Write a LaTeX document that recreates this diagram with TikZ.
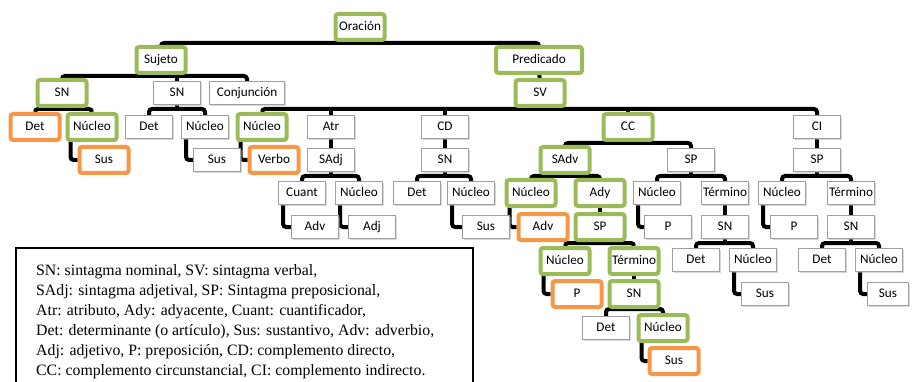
\documentclass[tikz,border=0pt]{standalone}
\usepackage{fontspec}
\setmainfont{Carlito}
\newfontfamily\legfont{Liberation Serif}
\usetikzlibrary{shadows,backgrounds}
\definecolor{gcol}{RGB}{155,187,89}
\definecolor{ocol}{RGB}{247,150,70}
\tikzset{
  base/.style={fill=white, inner sep=0pt, font=\fontsize{13.2}{15}\selectfont, text height=9.5pt, text depth=2.5pt},
  pbox/.style={base, draw=gray!75, line width=0.9pt, minimum width=47pt, minimum height=23pt,
    drop shadow={shadow xshift=1.2pt, shadow yshift=-1.6pt, fill=gray!60, opacity=0.5}},
  gbox/.style={base, draw=gcol, line width=4pt, rounded corners=2.5pt, minimum width=49pt, minimum height=26pt},
  obox/.style={gbox, draw=ocol},
  conn/.style={line width=4pt, rounded corners=3pt, draw=black},
}
\newcommand\treebar[4]{%
  \draw[conn] (#1.south) -- (#1.south |- 0,#2);
  \draw[conn] (#3.north) -- (#3.north |- 0,#2) -- (#4.north |- 0,#2) -- (#4.north);}
\newcommand\midkid[2]{\draw[conn] (#1.north) -- (#1.north |- 0,#2);}
\newcommand\vconn[2]{\draw[conn] (#1.south) -- (#2.north);}
\newcommand\lconn[2]{\draw[conn] ([xshift=5pt]#1.west) |- (#2.west);}
\begin{document}
\begin{tikzpicture}[x=1pt,y=-1pt]
\useasboundingbox (0,0) rectangle (912,382);
% ---------- nodes ----------
\node[gbox] (orac) at (360,27) {Oración};
\node[gbox] (suj) at (161,60) {Sujeto};
\node[gbox, minimum width=86pt] (pred) at (539,60) {Predicado};
\node[gbox] (sv) at (540,93) {SV};
\node[gbox] (sn1) at (62,93) {SN};
\node[pbox] (sn2) at (177,93) {SN};
\node[pbox, minimum width=75pt] (conj) at (247,93) {Conjunción};
\node[obox] (det1) at (35,127) {Det};
\node[gbox] (nuc1) at (92,127) {Núcleo};
\node[obox] (sus1) at (104,160) {Sus};
\node[pbox] (det2) at (149,127) {Det};
\node[pbox] (nuc2) at (205,127) {Núcleo};
\node[pbox] (sus2) at (217,160) {Sus};
\node[gbox] (nucv) at (262,127) {Núcleo};
\node[obox] (verbo) at (274,160) {Verbo};
\node[pbox] (atr) at (331,127) {Atr};
\node[pbox] (sadj) at (331,160) {SAdj};
\node[pbox] (cuant) at (302,193) {Cuant};
\node[pbox] (nuc3) at (359,193) {Núcleo};
\node[pbox] (adv1) at (315,227) {Adv};
\node[pbox] (adj) at (372,227) {Adj};
\node[pbox] (cd) at (445,127) {CD};
\node[pbox] (sn3) at (445,160) {SN};
\node[pbox] (det3) at (417,193) {Det};
\node[pbox] (nuc4) at (471,193) {Núcleo};
\node[pbox] (sus3) at (486,227) {Sus};
\node[gbox] (cc) at (628,127) {CC};
\node[gbox] (sadv) at (565,160) {SAdv};
\node[pbox] (sp1) at (691,160) {SP};
\node[gbox] (nuc5) at (531,193) {Núcleo};
\node[gbox] (ady) at (600,193) {Ady};
\node[obox] (adv2) at (543,227) {Adv};
\node[gbox] (sp2) at (600,227) {SP};
\node[gbox] (nuc6) at (565,261) {Núcleo};
\node[gbox] (term1) at (634,261) {Término};
\node[obox] (p1) at (577,294) {P};
\node[gbox] (sn4) at (634,294) {SN};
\node[pbox] (det4) at (606,328) {Det};
\node[gbox] (nuc7) at (663,328) {Núcleo};
\node[obox] (sus4) at (674,361) {Sus};
\node[pbox] (nuc8) at (657,193) {Núcleo};
\node[pbox] (term2) at (725,193) {Término};
\node[pbox] (p2) at (668,227) {P};
\node[pbox] (sn5) at (725,227) {SN};
\node[pbox] (det5) at (696,260) {Det};
\node[pbox] (nuc9) at (753,260) {Núcleo};
\node[pbox] (sus5) at (765,294) {Sus};
\node[pbox] (ci) at (817,127) {CI};
\node[pbox] (sp3) at (817,160) {SP};
\node[pbox] (nuc10) at (782,193) {Núcleo};
\node[pbox] (term3) at (851,193) {Término};
\node[pbox] (p3) at (794,227) {P};
\node[pbox] (sn6) at (851,227) {SN};
\node[pbox] (det6) at (822,260) {Det};
\node[pbox] (nuc11) at (879,260) {Núcleo};
\node[pbox, minimum width=41pt] (sus6) at (888,294) {Sus};
% ---------- connectors (behind boxes) ----------
\begin{pgfonlayer}{background}
\treebar{orac}{43}{suj}{pred}
\vconn{pred}{sv}
\treebar{suj}{76}{sn1}{conj}
\midkid{sn2}{76}
\treebar{sn1}{109}{det1}{nuc1}
\treebar{sn2}{109}{det2}{nuc2}
\treebar{sv}{109}{nucv}{ci}
\midkid{atr}{109}\midkid{cd}{109}\midkid{cc}{109}
\vconn{atr}{sadj}
\vconn{cd}{sn3}
\vconn{ci}{sp3}
\treebar{sadj}{176}{cuant}{nuc3}
\treebar{sn3}{176}{det3}{nuc4}
\treebar{cc}{143}{sadv}{sp1}
\treebar{sadv}{176}{nuc5}{ady}
\treebar{sp1}{176}{nuc8}{term2}
\treebar{sp3}{176}{nuc10}{term3}
\vconn{ady}{sp2}
\vconn{term1}{sn4}
\vconn{term2}{sn5}
\vconn{term3}{sn6}
\treebar{sp2}{243}{nuc6}{term1}
\treebar{sn4}{309}{det4}{nuc7}
\treebar{sn5}{243}{det5}{nuc9}
\treebar{sn6}{243}{det6}{nuc11}
\lconn{nuc1}{sus1}\lconn{nuc2}{sus2}\lconn{nucv}{verbo}
\lconn{cuant}{adv1}\lconn{nuc3}{adj}\lconn{nuc4}{sus3}
\lconn{nuc5}{adv2}\lconn{nuc6}{p1}\lconn{nuc7}{sus4}
\lconn{nuc8}{p2}\lconn{nuc9}{sus5}\lconn{nuc10}{p3}\lconn{nuc11}{sus6}
\end{pgfonlayer}
% ---------- legend ----------
\draw[line width=1.3pt] (16,386) -- (16,248) -- (473,248) -- (473,386);
\node[anchor=north west, align=left, inner sep=0pt,
      font={\legfont\fontsize{15.8}{20}\selectfont}] (leg) at (36,264)
 {SN: sintagma nominal, SV: sintagma verbal,\\
  SAdj: sintagma adjetival, SP: Sintagma preposicional,\\
  Atr: atributo, Ady: adyacente, Cuant: cuantificador,\\
  Det: determinante (o artículo), Sus: sustantivo, Adv: adverbio,\\
  Adj: adjetivo, P: preposición, CD: complemento directo,\\
  CC: complemento circunstancial, CI: complemento indirecto.};
\end{tikzpicture}
\end{document}
